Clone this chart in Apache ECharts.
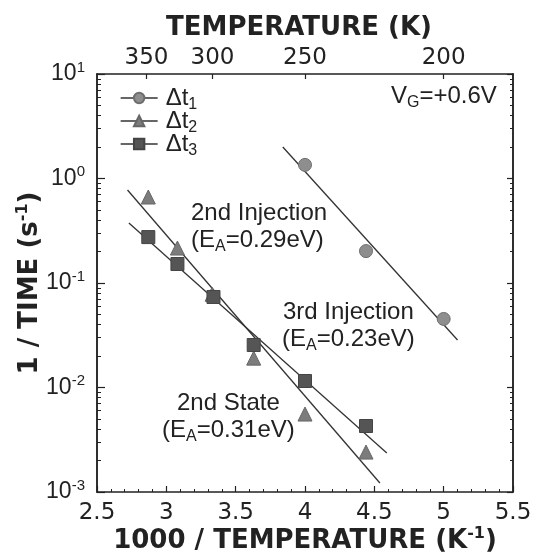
<!DOCTYPE html>
<html>
<head>
<meta charset="utf-8">
<script src="https://cdn.jsdelivr.net/npm/echarts@6/dist/echarts.min.js"></script>
<style>
  html, body { margin: 0; padding: 0; background: #fff; }
  #chart { width: 535px; height: 555px; }
</style>
</head>
<body>
<div id="chart"></div>
<script>
// Reciprocal temperature 1000/T (K^-1) and emission rate 1/time (s^-1)
const dt1X = [4.0, 4.44, 5.0];
const dt1Y = [1.35, 0.202, 0.0453];
const dt2X = [2.87, 3.08, 3.33, 3.63, 4.0, 4.44];
const dt2Y = [0.665, 0.216, 0.078, 0.0191, 0.00557, 0.00241];
const dt3X = [2.87, 3.08, 3.34, 3.63, 4.0, 4.44];
const dt3Y = [0.275, 0.152, 0.0735, 0.0255, 0.01154, 0.00428];

// Arrhenius fit lines, given by their end points
const fit1X = [3.84, 5.10];
const fit1Y = [2.0, 0.0285];
const fit2X = [2.72, 4.54];
const fit2Y = [0.776, 0.00122];
const fit3X = [2.73, 4.59];
const fit3Y = [0.375, 0.00236];

// Temperature ticks on the top axis (K)
const tempTicks = [350, 300, 250, 200];
// Decade exponents of the 1/time axis
const decadeExps = [-3, -2, -1, 0, 1];

const pairs = (xs, ys) => xs.map((x, i) => [x, ys[i]]);
// tick positions in exponent space for the tick-only frame axes
const majorExp = decadeExps.slice();
const minorExp = [];
decadeExps.slice(0, -1).forEach(e => {
  for (let k = 2; k <= 9; k++) minorExp.push(e + Math.log10(k));
});

const INK = '#222';
const LINE = '#333';
const SANS = '"Liberation Sans", Arial, sans-serif';
const WIDE = '"DejaVu Sans", sans-serif';

// rich-text styles: main text plus lowered subscript
const subRich = {
  m: { fontFamily: SANS, fontSize: 24, fill: INK, color: INK, lineHeight: 30 },
  s: { fontFamily: SANS, fontSize: 16, fill: INK, color: INK, verticalAlign: 'bottom', lineHeight: 14 }
};
// bold axis title with raised exponent
const titleStyle = {
  fontFamily: WIDE, fontWeight: 'bold', fontSize: 26, color: INK,
  rich: {
    p: { fontFamily: WIDE, fontWeight: 'bold', fontSize: 16, color: INK, verticalAlign: 'top', lineHeight: 30 }
  }
};

const chart = echarts.init(document.getElementById('chart'));

const frameAxis = (pos, exps, len, w) => ({
  type: 'value', position: pos, min: decadeExps[0], max: decadeExps[decadeExps.length - 1],
  splitLine: { show: false },
  axisLine: { show: true, onZero: false, lineStyle: { color: INK, width: 1.5 } },
  axisTick: { show: true, inside: true, length: len, lineStyle: { color: INK, width: w }, customValues: exps },
  axisLabel: { show: false }
});

const option = {
  backgroundColor: '#fff',
  animation: false,
  grid: { left: 97, right: 22, top: 74, bottom: 63, containLabel: false, outerBoundsMode: 'none' },
  legend: {
    data: ['Δt1', 'Δt2', 'Δt3'],
    orient: 'vertical',
    left: 115, top: 81,
    itemWidth: 37, itemHeight: 13, itemGap: -4,
    lineStyle: { width: 1.3, color: LINE, opacity: 1 },
    formatter: name => '{m|Δt}{s|' + name.slice(2) + '}',
    textStyle: { color: INK, padding: [0, 0, 0, 3], rich: subRich }
  },
  xAxis: [
    {
      type: 'value', position: 'bottom', min: 2.5, max: 5.5, interval: 0.5,
      name: '1000 / TEMPERATURE (K{p|-1})',
      nameLocation: 'middle', nameGap: 34, nameMoveOverlap: false,
      nameTextStyle: titleStyle,
      splitLine: { show: false },
      axisLine: { show: true, onZero: false, lineStyle: { color: INK, width: 1.5 } },
      axisTick: { show: true, inside: true, length: 6, lineStyle: { color: INK, width: 1.2 } },
      minorTick: { show: true, splitNumber: 5, length: 3, lineStyle: { color: INK, width: 1 } },
      axisLabel: {
        fontFamily: WIDE, fontSize: 23, color: INK, margin: 10,
        showMinLabel: true, showMaxLabel: true,
        formatter: v => String(v)
      }
    },
    {
      type: 'value', position: 'top', min: 2.5, max: 5.5,
      name: 'TEMPERATURE (K)',
      nameLocation: 'middle', nameGap: 33, nameMoveOverlap: false,
      nameTextStyle: { fontFamily: WIDE, fontWeight: 'bold', fontSize: 26, color: INK, padding: [0, 12, 0, 0] },
      splitLine: { show: false },
      axisLine: { show: true, onZero: false, lineStyle: { color: INK, width: 1.5 } },
      axisTick: {
        show: true, inside: true, length: 5, lineStyle: { color: INK, width: 1.2 },
        customValues: tempTicks.map(t => 1000 / t)
      },
      axisLabel: {
        fontFamily: WIDE, fontSize: 23, color: INK, margin: 4,
        customValues: tempTicks.map(t => 1000 / t),
        formatter: v => String(Math.round(1000 / v))
      }
    }
  ],
  yAxis: [
    {
      type: 'log', logBase: 10, min: 0.001, max: 10,
      position: 'left',
      name: '1 / TIME (s{p|-1})',
      nameLocation: 'middle', nameGap: 52, nameMoveOverlap: false,
      nameTextStyle: titleStyle,
      splitLine: { show: false },
      axisLine: { show: true, onZero: false, lineStyle: { color: INK, width: 1.5 } },
      axisTick: { show: true, inside: true, length: 8, lineStyle: { color: INK, width: 1.2 } },
      axisLabel: {
        margin: 12,
        formatter: v => '{b|10}{p|' + Math.round(Math.log10(v)) + '}',
        rich: {
          b: { fontFamily: SANS, fontSize: 23, color: INK, lineHeight: 28 },
          p: { fontFamily: SANS, fontSize: 15, color: INK, verticalAlign: 'top', lineHeight: 16 }
        }
      }
    },
    frameAxis('left', minorExp, 4, 1),
    frameAxis('right', majorExp, 6, 1.2),
    frameAxis('right', minorExp, 3, 1)
  ],
  series: [
    { type: 'line', data: pairs(fit1X, fit1Y), symbol: 'none', lineStyle: { color: LINE, width: 1.3 }, silent: true },
    { type: 'line', data: pairs(fit2X, fit2Y), symbol: 'none', lineStyle: { color: LINE, width: 1.3 }, silent: true },
    { type: 'line', data: pairs(fit3X, fit3Y), symbol: 'none', lineStyle: { color: LINE, width: 1.3 }, silent: true },
    {
      name: 'Δt1', type: 'line', data: pairs(dt1X, dt1Y),
      symbol: 'circle', symbolSize: 13,
      itemStyle: { color: '#8e8e8e', borderColor: '#6e6e6e', borderWidth: 1 },
      lineStyle: { width: 0, opacity: 0 }
    },
    {
      name: 'Δt2', type: 'line', data: pairs(dt2X, dt2Y),
      symbol: 'triangle', symbolSize: 14,
      itemStyle: { color: '#7c7c7c', borderColor: '#666', borderWidth: 1 },
      lineStyle: { width: 0, opacity: 0 }
    },
    {
      name: 'Δt3', type: 'line', data: pairs(dt3X, dt3Y),
      symbol: 'rect', symbolSize: 13,
      itemStyle: { color: '#555', borderColor: '#444', borderWidth: 1 },
      lineStyle: { width: 0, opacity: 0 }
    }
  ],
  graphic: [
    { type: 'text', left: 391, top: 84, style: { text: '{m|V}{s|G}{m|=+0.6V}', rich: subRich } },
    { type: 'text', left: 191, top: 201, style: { text: '2nd Injection', fill: INK, font: '24px ' + SANS } },
    { type: 'text', left: 191, top: 228, style: { text: '{m|(E}{s|A}{m|=0.29eV)}', rich: subRich } },
    { type: 'text', left: 283, top: 300, style: { text: '3rd Injection', fill: INK, font: '24px ' + SANS } },
    { type: 'text', left: 282, top: 327, style: { text: '{m|(E}{s|A}{m|=0.23eV)}', rich: subRich } },
    { type: 'text', left: 177, top: 391, style: { text: '2nd State', fill: INK, font: '24px ' + SANS } },
    { type: 'text', left: 162, top: 418, style: { text: '{m|(E}{s|A}{m|=0.31eV)}', rich: subRich } }
  ]
};

chart.setOption(option);
</script>
</body>
</html>
